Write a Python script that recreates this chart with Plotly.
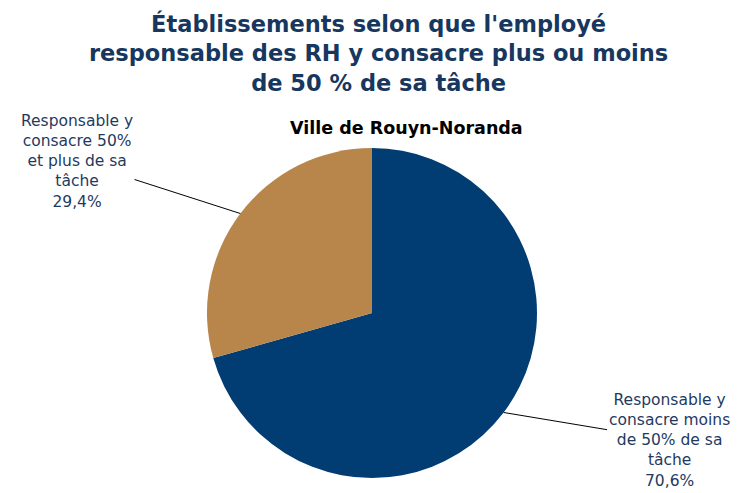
import plotly.graph_objects as go
import math

labels = ["Responsable y<br>consacre moins<br>de 50% de sa<br>tâche",
          "Responsable y<br>consacre 50%<br>et plus de sa<br>tâche"]
values = [70.6, 29.4]
colors = ["#013C73", "#B8864A"]
title_text = "Établissements selon que l'employé<br>responsable des RH y consacre plus ou moins<br>de 50 % de sa tâche"
subtitle = "Ville de Rouyn-Noranda"

W, H = 741, 493
cx, cy, r = 364, 305, 165

fig = go.Figure(go.Pie(
    labels=labels, values=values, sort=False, direction="clockwise",
    rotation=0, marker=dict(colors=colors, line=dict(width=0)),
    textinfo="none", hoverinfo="label+percent", showlegend=False,
    domain=dict(x=[(cx - r) / W, (cx + r) / W], y=[(H - cy - r) / H, (H - cy + r) / H]),
))

# label annotations with leader lines (slices go clockwise from 12 o'clock)
start = 90.0
total = sum(values)
label_pos = [(661, 432), (69, 153)]
for lab, v, (tx, ty) in zip(labels, values, label_pos):
    span = v / total * 360
    mid = math.radians(start - span / 2)
    start -= span
    px = cx + r * math.cos(mid)
    py = cy - r * math.sin(mid)
    fig.add_annotation(
        x=px / W, y=(H - py) / H, xref="paper", yref="paper",
        ax=tx - px, ay=ty - py, axref="pixel", ayref="pixel",
        text=f"{lab}<br>{v:.1f}%".replace(".", ","), showarrow=True, arrowhead=0,
        arrowwidth=1, arrowcolor="#000000", standoff=0,
        font=dict(family="DejaVu Sans", size=15.5, color="#1F3A5F"), align="center",
    )

fig.add_annotation(x=398 / W, y=(H - 120) / H, xref="paper", yref="paper",
                   text=f"<b>{subtitle}</b>", showarrow=False, yanchor="middle",
                   font=dict(family="DejaVu Sans", size=17.5, color="#000000"))

fig.add_annotation(x=0.5, y=(H - 45) / H, xref="paper", yref="paper",
                   text=f"<b>{title_text}</b>", showarrow=False, yanchor="middle",
                   font=dict(family="DejaVu Sans", size=22.5, color="#17375E"))

fig.update_layout(
    width=W, height=H, margin=dict(l=0, r=0, t=0, b=0),
    paper_bgcolor="white", plot_bgcolor="white",
)

fig.write_html("out.html")
